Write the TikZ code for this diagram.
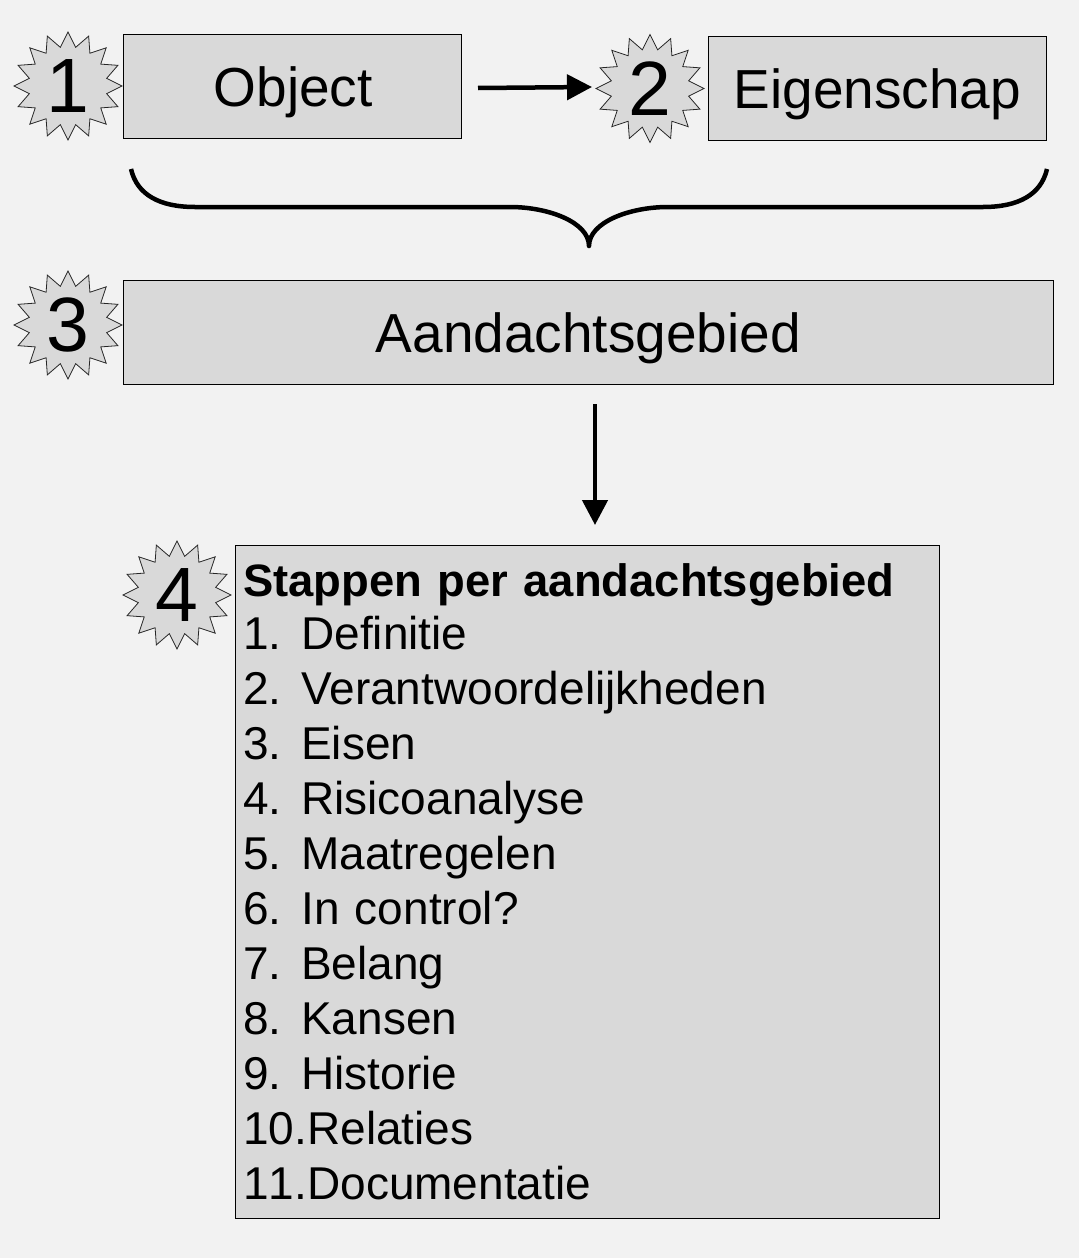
\documentclass[tikz,border=0pt]{standalone}
\usepackage{fontspec}
\setmainfont{Liberation Sans}
\usetikzlibrary{shapes.geometric,arrows.meta}
\definecolor{pagebg}{HTML}{F2F2F2}
\definecolor{boxfill}{HTML}{D9D9D9}
\newcommand{\stepnum}[2]{\makebox[58pt][l]{#1}#2}
\tikzset{
  graybox/.style={draw=black,line width=1pt,fill=boxfill,inner sep=0pt,anchor=north west},
  boxlabel/.style={font=\fontsize{55pt}{60pt}\selectfont,text=black,text height=40pt,text depth=0pt},
  burst/.style={star,star points=16,star point ratio=1.37,draw=black!85,line width=.8pt,fill=boxfill,
    inner sep=0pt,minimum size=108pt,font=\fontsize{77pt}{80pt}\selectfont,text=black},
  flow/.style={line width=4.5pt,-{Triangle[length=25pt,width=25pt]},black},
  bracepath/.style={line width=4.5pt,black,line cap=butt,line join=round}
}
\begin{document}
\begin{tikzpicture}[x=1pt,y=-1pt]
\useasboundingbox[fill=pagebg] (0,0) rectangle (1079,1258);
\node[graybox,boxlabel,minimum width=338pt,minimum height=104pt] (obj) at (122.8,33.8) {\hspace*{2pt}Object};
\node[graybox,boxlabel,minimum width=338pt,minimum height=104pt] (eig) at (707.8,35.8) {Eigenschap};
\node[graybox,boxlabel,minimum width=930pt,minimum height=104pt] (aan) at (122.8,279.8) {Aandachtsgebied};
\node[graybox,minimum width=704pt,minimum height=673pt,text width=688pt,inner xsep=8pt,align=left,
  font=\fontsize{46pt}{55pt}\selectfont] (stp) at (234.8,544.8) {%
  \vspace*{-10pt}%
  \raisebox{2pt}{\fontsize{45.4pt}{55pt}\selectfont\bfseries Stappen per aandachtsgebied}\\[6pt]
  \stepnum{1.}{Definitie}\\
  \stepnum{2.}{Verantwoordelijkheden}\\
  \stepnum{3.}{Eisen}\\
  \stepnum{4.}{Risicoanalyse}\\
  \stepnum{5.}{Maatregelen}\\
  \stepnum{6.}{In control?}\\
  \stepnum{7.}{Belang}\\
  \stepnum{8.}{Kansen}\\
  \stepnum{9.}{Historie}\\
  10.Relaties\\
  1\kern0pt 1.Documentatie};
\node[burst] (s1) at (68,86) {1};
\node[burst] (s2) at (650,88.5) {2};
\node[burst] (s3) at (68,325) {3};
\node[burst] (s4) at (177,595) {4};
\coordinate (a1) at (478,88);
\coordinate (a1e) at (592,87);
\coordinate (a2) at (595,404);
\coordinate (a2e) at (595,525);
\draw[flow] (a1) -- (a1e);
\draw[flow] (a2) -- (a2e);
\coordinate (bl) at (131,169);
\coordinate (br) at (1047,169);
\coordinate (bm) at (589,246);
\draw[bracepath] (bl) .. controls (137,195) and (160,207) .. (195,207)
  -- (510,207) .. controls (548,207) and (589,222) .. (bm)
  .. controls (589,222) and (630,207) .. (668,207)
  -- (983,207) .. controls (1018,207) and (1041,195) .. (br);
\end{tikzpicture}
\end{document}
